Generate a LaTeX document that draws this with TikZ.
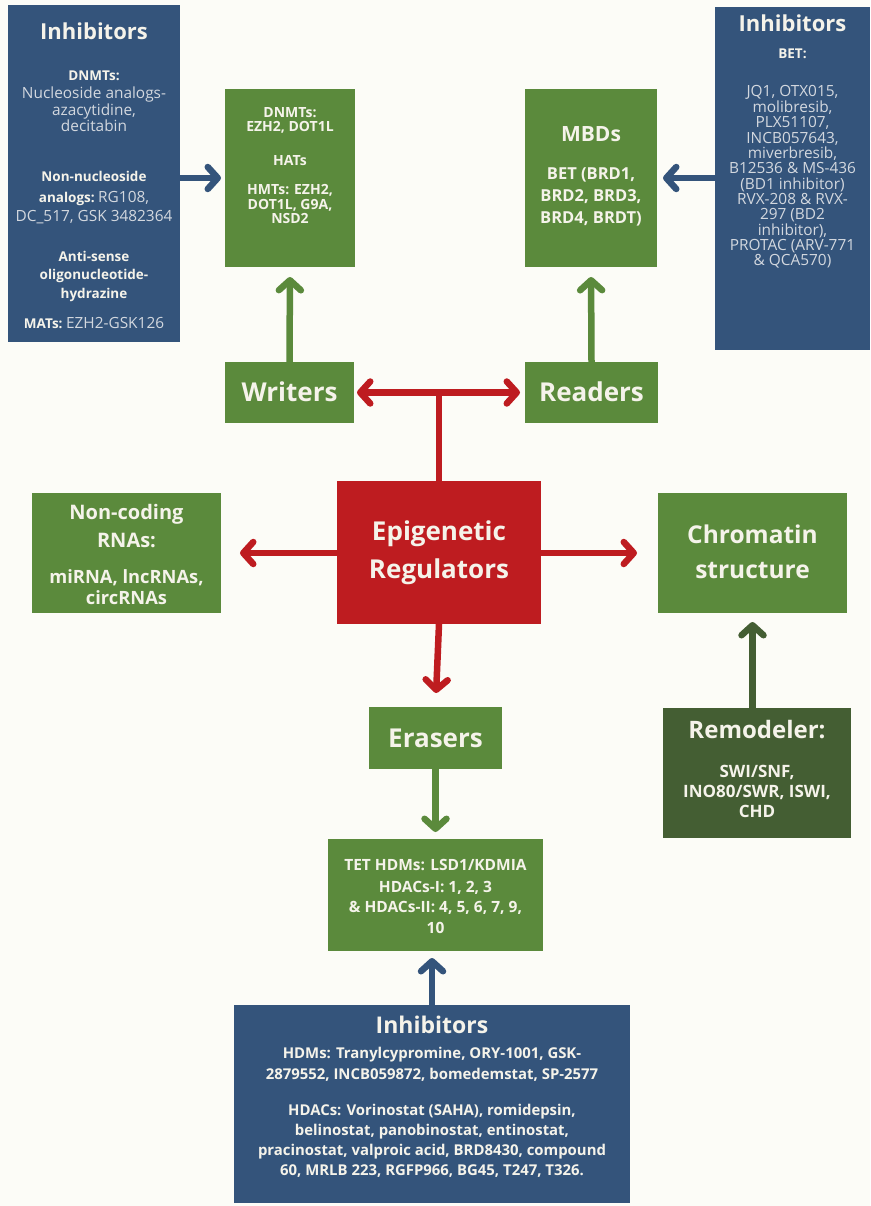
\documentclass[tikz,border=0pt]{standalone}
\usepackage{fontspec}
\setmainfont{Open Sans}
\usetikzlibrary{arrows.meta}

\definecolor{bg}{HTML}{FCFCF7}
\definecolor{gfill}{HTML}{5B8A3C}
\definecolor{dgfill}{HTML}{445E33}
\definecolor{bfill}{HTML}{34547B}
\definecolor{rfill}{HTML}{BE1C20}
\definecolor{tw}{HTML}{F5F3EA}
\definecolor{tg}{HTML}{D3D8DF}

\newcommand{\fs}[1]{\fontsize{#1}{#1}\selectfont}

\tikzset{
  panel/.style={rectangle, inner sep=0pt, outer sep=0pt, draw=none},
  gpanel/.style={panel, fill=gfill},
  dgpanel/.style={panel, fill=dgfill},
  bpanel/.style={panel, fill=bfill},
  rpanel/.style={panel, fill=rfill},
  ln/.style={inner sep=0pt, outer sep=0pt, anchor=base, text=tw},
  hd/.style={ln, font=\fs{22}\bfseries},
  big/.style={ln, font=\fs{26}\bfseries},
  bb/.style={ln, font=\fs{13.5}\bfseries},
  rg/.style={ln, text=tg, font=\fs{15.4}},
  link/.style={line width=6.5pt, -{Straight Barb[length=10pt,width=22pt,round]}},
  blink/.style={link, draw=bfill},
  glink/.style={link, draw=gfill},
  dglink/.style={link, draw=dgfill},
  rlink/.style={link, draw=rfill},
}

\begin{document}
\begin{tikzpicture}[x=1pt,y=-1pt]
\useasboundingbox (0,0) rectangle (870,1206);
\fill[bg] (0,0) rectangle (870,1206);

% ---------- panels ----------
\node[bpanel, minimum width=172, minimum height=337] (inhL) at (94,173.5) {};
\node[gpanel, minimum width=130, minimum height=178] (wdet) at (290,178) {};
\node[gpanel, minimum width=132, minimum height=178] (mbd) at (591,178) {};
\node[bpanel, minimum width=155, minimum height=343] (inhR) at (792.5,178.5) {};
\node[gpanel, minimum width=129, minimum height=61] (writ) at (289.5,392.5) {};
\node[gpanel, minimum width=133, minimum height=61] (read) at (591.5,392.5) {};
\node[rpanel, minimum width=204, minimum height=143] (epi) at (439,552.5) {};
\node[gpanel, minimum width=189, minimum height=120] (nc) at (126.5,553) {};
\node[gpanel, minimum width=189, minimum height=120] (chrom) at (752.5,553) {};
\node[dgpanel, minimum width=188, minimum height=130] (rem) at (757,773) {};
\node[gpanel, minimum width=133, minimum height=62] (eras) at (435.5,738) {};
\node[gpanel, minimum width=215, minimum height=112] (edet) at (435.5,895) {};
\node[bpanel, minimum width=396, minimum height=198] (inhB) at (432,1104) {};

% ---------- DNMT / HAT / HMT inhibitors ----------
\node[hd] (inhL-h) at (94,40) {Inhibitors};
\node[bb] (inhL-1) at (94,80.5) {DNMTs:};
\node[rg] (inhL-2) at (94,99) {Nucleoside analogs-};
\node[rg] (inhL-3) at (94,116) {azacytidine,};
\node[rg] (inhL-4) at (94,132) {decitabin};
\node[bb] (inhL-5) at (94,182) {Non-nucleoside};
\node[ln] (inhL-6) at (94,203) {\fs{13.5}\bfseries analogs:\ \color{tg}\mdseries\fs{15.4}RG108,};
\node[rg] (inhL-7) at (94,222) {DC\_517, GSK 3482364};
\node[bb] (inhL-8) at (94,261) {Anti-sense};
\node[bb] (inhL-9) at (94,279) {oligonucleotide-};
\node[bb] (inhL-10) at (94,298) {hydrazine};
\node[ln] (inhL-11) at (94,328) {\fs{13.5}\bfseries MATs:\ \color{tg}\mdseries\fs{15.4}EZH2-GSK126};

% ---------- writer enzymes ----------
\node[bb, font=\fs{14}\bfseries] (wdet-1) at (290,118) {DNMTs:};
\node[bb, font=\fs{14}\bfseries] (wdet-2) at (290,132) {EZH2, DOT1L};
\node[bb, font=\fs{14}\bfseries] (wdet-3) at (290,166) {HATs};
\node[bb, font=\fs{14}\bfseries] (wdet-4) at (290,195) {HMTs: EZH2,};
\node[bb, font=\fs{14}\bfseries] (wdet-5) at (290,210) {DOT1L, G9A,};
\node[bb, font=\fs{14}\bfseries] (wdet-6) at (290,224) {NSD2};

% ---------- reader proteins ----------
\node[ln, font=\fs{21}\bfseries] (mbd-h) at (591,141.5) {MBDs};
\node[ln, font=\fs{16.5}\bfseries] (mbd-1) at (591,179.5) {BET (BRD1,};
\node[ln, font=\fs{16.5}\bfseries] (mbd-2) at (591,201.5) {BRD2, BRD3,};
\node[ln, font=\fs{16.5}\bfseries] (mbd-3) at (591,224) {BRD4, BRDT)};

% ---------- BET inhibitors ----------
\node[hd] (inhR-h) at (792.5,32) {Inhibitors};
\node[bb] (inhR-0) at (792.5,58.5) {BET:};
\foreach \t [count=\k from 0] in {{JQ1, OTX015,},{molibresib,},{PLX51107,},{INCB057643,},
  {miverbresib,},{B12536 \& MS-436},{(BD1 inhibitor)},{RVX-208 \& RVX-},
  {297 (BD2},{inhibitor),},{PROTAC (ARV-771},{\& QCA570)}}
  \node[rg] (inhR-l\k) at (792.5,97+15.35*\k) {\t};

% ---------- central nodes ----------
\node[big] (writ-t) at (289.5,401) {Writers};
\node[big] (read-t) at (591.5,401) {Readers};
\node[big] (epi-1) at (439,540) {Epigenetic};
\node[big] (epi-2) at (439,578) {Regulators};
\node[ln, font=\fs{20}\bfseries] (nc-1) at (126.5,519) {Non-coding};
\node[ln, font=\fs{20}\bfseries] (nc-2) at (126.5,547) {RNAs:};
\node[ln, font=\fs{18.3}\bfseries] (nc-3) at (126.5,583) {miRNA, lncRNAs,};
\node[ln, font=\fs{18.3}\bfseries] (nc-4) at (126.5,604) {circRNAs};
\node[ln, font=\fs{24.5}\bfseries] (chrom-1) at (752.5,543.5) {Chromatin};
\node[ln, font=\fs{24.5}\bfseries] (chrom-2) at (752.5,578) {structure};
\node[ln, font=\fs{24}\bfseries] (rem-h) at (757,738.5) {Remodeler:};
\node[ln, font=\fs{17}\bfseries] (rem-1) at (757,777) {SWI/SNF,};
\node[ln, font=\fs{17}\bfseries] (rem-2) at (757,797) {INO80/SWR, ISWI,};
\node[ln, font=\fs{17}\bfseries] (rem-3) at (757,817) {CHD};
\node[big] (eras-t) at (435.5,747) {Erasers};

% ---------- eraser enzymes ----------
\node[ln, font=\fs{15.5}\bfseries] (edet-1) at (435.5,870) {TET HDMs: LSD1/KDMIA};
\node[ln, font=\fs{15.5}\bfseries] (edet-2) at (435.5,892) {HDACs-I: 1, 2, 3};
\node[ln, font=\fs{15.5}\bfseries] (edet-3) at (435.5,912) {\& HDACs-II: 4, 5, 6, 7, 9,};
\node[ln, font=\fs{15.5}\bfseries] (edet-4) at (435.5,933) {10};

% ---------- HDM / HDAC inhibitors ----------
\node[ln, font=\fs{23}\bfseries] (inhB-h) at (432,1033) {Inhibitors};
\node[ln, font=\fs{14.9}\bfseries] (inhB-1) at (432,1058) {HDMs: Tranylcypromine, ORY-1001, GSK-};
\node[ln, font=\fs{14.9}\bfseries] (inhB-2) at (432,1079) {2879552, INCB059872, bomedemstat, SP-2577};
\node[ln, font=\fs{14.9}\bfseries] (inhB-3) at (432,1115) {HDACs: Vorinostat (SAHA), romidepsin,};
\node[ln, font=\fs{14.9}\bfseries] (inhB-4) at (432,1135) {belinostat, panobinostat, entinostat,};
\node[ln, font=\fs{14.9}\bfseries] (inhB-5) at (432,1155) {pracinostat, valproic acid, BRD8430, compound};
\node[ln, font=\fs{14.9}\bfseries] (inhB-6) at (432,1175) {60, MRLB 223, RGFP966, BG45, T247, T326.};

% ---------- connectors ----------
\draw[blink, shorten >=4pt] (wdet.west -| inhL.east) -- (wdet.west);
\draw[blink, shorten >=6pt] (mbd.east -| inhR.west) -- (mbd.east);
\draw[blink, shorten >=7pt] (inhB.north) -- (inhB.north |- edet.south);
\draw[glink, shorten >=10pt] (writ.north) -- (wdet.south);
\draw[glink, shorten >=10pt] (read.north) -- (mbd.south);
\draw[glink, shorten >=7pt] (eras.south) -- (edet.north);
\draw[dglink, shorten >=9pt] (rem.north -| chrom.south) -- (chrom.south);

\coordinate (hub) at (epi.north |- writ.east);
\draw[rfill, line width=6.5pt] (epi.north) -- (hub);
\draw[rlink, {Straight Barb[length=10pt,width=22pt,round]}-{Straight Barb[length=10pt,width=22pt,round]},
      shorten <=3pt, shorten >=5pt] (writ.east) -- (read.west);
\draw[rlink, shorten >=19pt] (nc.east -| epi.west) -- (nc.east);
\draw[rlink, shorten >=21pt] (chrom.west -| epi.east) -- (chrom.west);
\draw[rlink, shorten >=14pt] (epi.south) -- (eras.north);
\end{tikzpicture}
\end{document}
